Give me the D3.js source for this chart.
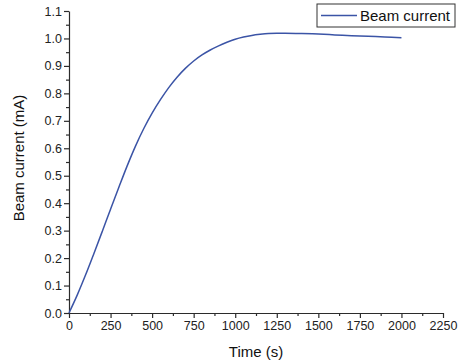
<!DOCTYPE html>
<html>
<head>
    <title>Beam current</title>
    <script src="https://d3js.org/d3.v7.min.js"></script>
    <style>
        body { margin: 0; background: #fff; }
        text { font-family: Arial, "Liberation Sans", sans-serif; }
    </style>
</head>
<body>
    <svg width="459" height="364" id="mainSvg"></svg>
    <script>
        // data
        const time = [0, 50, 100, 150, 200, 250, 300, 350, 400, 450, 500, 550, 600, 650, 700, 750,
                      800, 850, 900, 950, 1000, 1050, 1100, 1150, 1200, 1250, 1300, 1400, 1500, 1600,
                      1700, 1800, 1900, 2000];
        const current = [0, 0.066, 0.139, 0.217, 0.297, 0.378, 0.458, 0.536, 0.608, 0.672, 0.728, 0.777,
                         0.821, 0.859, 0.891, 0.918, 0.940, 0.958, 0.973, 0.986, 0.997, 1.005, 1.011, 1.015,
                         1.018, 1.019, 1.019, 1.018, 1.016, 1.013, 1.010, 1.008, 1.005, 1.003];
        const xTicks = d3.range(0, 2251, 250);
        const yTicks = d3.range(0, 12).map(i => i / 10);
        const seriesName = "Beam current";

        const data = time.map((t, i) => ({t: t, v: current[i]}));

        const svg = d3.select("#mainSvg");
        const margin = {top: 11, right: 16, bottom: 51, left: 69};
        const width = 459 - margin.left - margin.right;
        const height = 364 - margin.top - margin.bottom;

        const g = svg.append("g")
            .attr("transform", `translate(${margin.left},${margin.top})`);

        const x = d3.scaleLinear().domain([0, 2250]).range([0, width]);
        const y = d3.scaleLinear().domain([0, 1.1]).range([height, 0]);

        const axisColor = "#2b2b2b";

        // minor ticks
        g.append("g")
            .attr("transform", `translate(0,${height})`)
            .call(d3.axisBottom(x).tickValues(d3.range(125, 2250, 250)).tickSize(3).tickFormat(""))
            .call(a => a.select(".domain").remove());
        g.append("g")
            .call(d3.axisLeft(y).tickValues(d3.range(0, 11).map(i => i / 10 + 0.05)).tickSize(3).tickFormat(""))
            .call(a => a.select(".domain").remove());

        g.append("g")
            .attr("transform", `translate(0,${height})`)
            .call(d3.axisBottom(x).tickValues(xTicks).tickSize(5).tickPadding(3)
                .tickSizeOuter(0).tickFormat(d3.format("d")));
        g.append("g")
            .call(d3.axisLeft(y).tickValues(yTicks).tickSize(5).tickPadding(2)
                .tickSizeOuter(0).tickFormat(d3.format(".1f")));

        g.selectAll(".tick line, .domain")
            .attr("stroke", axisColor)
            .attr("stroke-width", 1.2);
        g.selectAll(".tick text")
            .attr("fill", "#222")
            .style("font-size", "12.5px");

        // curve
        g.append("path")
            .datum(data)
            .attr("fill", "none")
            .attr("stroke", "#3b54a6")
            .attr("stroke-width", 1.5)
            .attr("d", d3.line().x(d => x(d.t)).y(d => y(d.v)).curve(d3.curveCatmullRom));

        // axis titles
        svg.append("text")
            .attr("x", margin.left + width / 2)
            .attr("y", 357)
            .attr("text-anchor", "middle")
            .style("font-size", "15px")
            .attr("fill", "#111")
            .text("Time (s)");
        svg.append("text")
            .attr("transform", "translate(24,158) rotate(-90)")
            .attr("text-anchor", "middle")
            .style("font-size", "15px")
            .attr("fill", "#111")
            .text("Beam current (mA)");

        // legend
        const lg = svg.append("g").attr("transform", "translate(317,4)");
        lg.append("rect")
            .attr("width", 138).attr("height", 23)
            .attr("fill", "#fff")
            .attr("stroke", "#333")
            .attr("stroke-width", 1);
        lg.append("line")
            .attr("x1", 4).attr("x2", 40)
            .attr("y1", 11.5).attr("y2", 11.5)
            .attr("stroke", "#3b54a6")
            .attr("stroke-width", 1.5);
        lg.append("text")
            .attr("x", 43).attr("y", 17)
            .style("font-size", "15px")
            .attr("fill", "#111")
            .text(seriesName);
    </script>
</body>
</html>
